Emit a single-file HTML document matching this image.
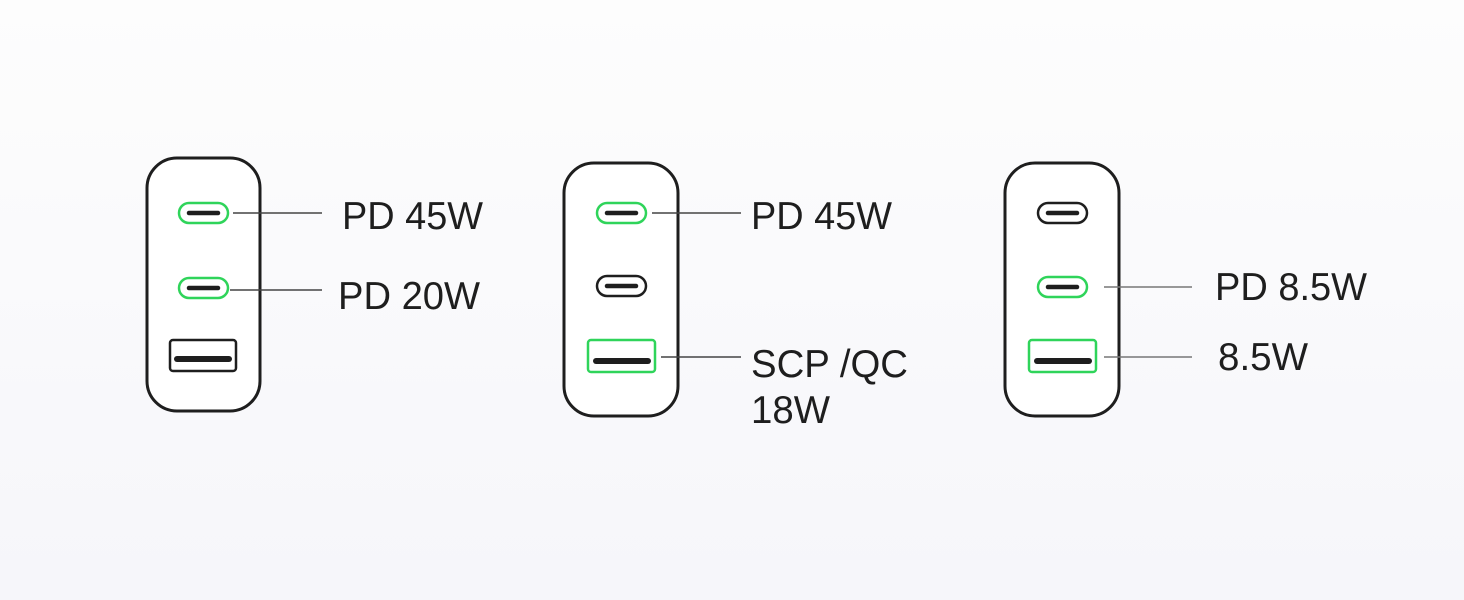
<!DOCTYPE html>
<html><head><meta charset="utf-8"><style>
html,body{margin:0;padding:0;background:#f9f9fb;}
svg{display:block}
text{font-family:"Liberation Sans",sans-serif;font-size:39px;fill:#1e1e1e;}
</style></head><body>
<svg width="1464" height="600" viewBox="0 0 1464 600" xmlns="http://www.w3.org/2000/svg">
<defs><linearGradient id="bg" x1="0" y1="0" x2="0" y2="1"><stop offset="0" stop-color="#fdfdfd"/><stop offset="1" stop-color="#f6f6fa"/></linearGradient></defs>
<rect width="1464" height="600" fill="url(#bg)"/>
<g fill="#fff" stroke="#1e1e1e" stroke-width="3">
<rect x="147" y="158" width="113" height="253" rx="30"/>
<rect x="564" y="163" width="114" height="253" rx="30"/>
<rect x="1005" y="163" width="114" height="253" rx="30"/>
</g>
<g fill="#fff" stroke-width="2.5">
<rect x="179" y="203" width="49" height="20" rx="10" stroke="#2fd45a"/>
<rect x="179" y="278" width="49" height="20" rx="10" stroke="#2fd45a"/>
<rect x="170" y="340" width="66" height="31" rx="3" stroke="#1e1e1e"/>
<rect x="597" y="203" width="49" height="20" rx="10" stroke="#2fd45a"/>
<rect x="597" y="276" width="49" height="20" rx="10" stroke="#1e1e1e"/>
<rect x="588" y="340" width="67" height="32" rx="3" stroke="#2fd45a"/>
<rect x="1038" y="203" width="49" height="20" rx="10" stroke="#1e1e1e"/>
<rect x="1038" y="277" width="49" height="20" rx="10" stroke="#2fd45a"/>
<rect x="1029" y="340" width="67" height="32" rx="3" stroke="#2fd45a"/>
</g>
<g stroke="#1e1e1e" stroke-linecap="round">
<line x1="189" y1="213" x2="218" y2="213" stroke-width="4.5"/>
<line x1="189" y1="288" x2="218" y2="288" stroke-width="4.5"/>
<line x1="177" y1="359" x2="229" y2="359" stroke-width="6"/>
<line x1="607" y1="213" x2="636" y2="213" stroke-width="4.5"/>
<line x1="607" y1="286" x2="636" y2="286" stroke-width="4.5"/>
<line x1="596" y1="361" x2="648" y2="361" stroke-width="6"/>
<line x1="1048" y1="213" x2="1077" y2="213" stroke-width="4.5"/>
<line x1="1048" y1="287" x2="1077" y2="287" stroke-width="4.5"/>
<line x1="1037" y1="361" x2="1089" y2="361" stroke-width="6"/>
</g>
<g stroke="#444" stroke-width="1.5">
<line x1="233" y1="213" x2="322" y2="213"/>
<line x1="230" y1="290" x2="322" y2="290"/>
<line x1="652" y1="213" x2="741" y2="213"/>
<line x1="661" y1="357" x2="741" y2="357"/>
</g>
<g stroke="#777" stroke-width="1.5">
<line x1="1104" y1="287" x2="1192" y2="287"/>
<line x1="1104" y1="357" x2="1192" y2="357"/>
</g>
<text x="342" y="229" textLength="141" lengthAdjust="spacingAndGlyphs">PD 45W</text>
<text x="338" y="309" textLength="142" lengthAdjust="spacingAndGlyphs">PD 20W</text>
<text x="751" y="229" textLength="141" lengthAdjust="spacingAndGlyphs">PD 45W</text>
<text x="751" y="377" textLength="157" lengthAdjust="spacingAndGlyphs">SCP /QC</text>
<text x="751" y="423" textLength="79" lengthAdjust="spacingAndGlyphs">18W</text>
<text x="1215" y="300" textLength="152" lengthAdjust="spacingAndGlyphs">PD 8.5W</text>
<text x="1218" y="370" textLength="90" lengthAdjust="spacingAndGlyphs">8.5W</text>
</svg>
</body></html>
